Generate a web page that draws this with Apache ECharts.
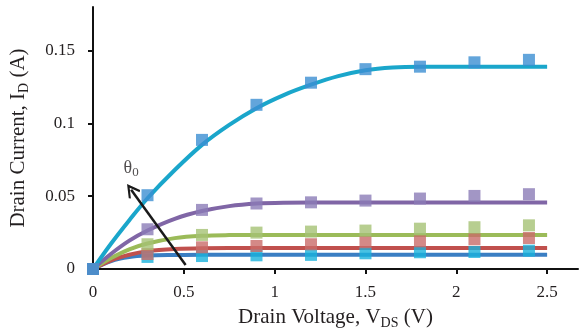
<!DOCTYPE html>
<html>
<head>
<meta charset="utf-8">
<script src="https://cdn.jsdelivr.net/npm/echarts@6/dist/echarts.min.js"></script>
<style>html,body{margin:0;padding:0;background:#fff;}#c{width:580px;height:335px;}</style>
</head>
<body>
<div id="c"></div>
<script>
// Measured points (markers)
var vds = [0, 0.3, 0.6, 0.9, 1.2, 1.5, 1.8, 2.1, 2.4];
var meas1 = [0, 0.0083, 0.0089, 0.0094, 0.0097, 0.0108, 0.0115, 0.0117, 0.0126];
var meas2 = [0, 0.0103, 0.0149, 0.0158, 0.0170, 0.0184, 0.0190, 0.0204, 0.0213];
var meas3 = [0, 0.0170, 0.0234, 0.0250, 0.0257, 0.0264, 0.0277, 0.0287, 0.0300];
var meas4 = [0, 0.0273, 0.0406, 0.0450, 0.0458, 0.0470, 0.0484, 0.0502, 0.0514];
var meas5 = [0, 0.0507, 0.0887, 0.1128, 0.1280, 0.1373, 0.1390, 0.1420, 0.1437];
// Fitted curves
var fitX = [0, 0.1, 0.2, 0.3, 0.45, 0.6, 0.75, 0.9, 1.05, 1.2, 1.35, 1.5, 1.65, 1.8, 2.1, 2.5];
var fit1 = [0, 0.0055, 0.0082, 0.0092, 0.0096, 0.0098, 0.0098, 0.0098, 0.0098, 0.0098, 0.0098, 0.0098, 0.0098, 0.0098, 0.0098, 0.0098];
var fit2 = [0, 0.0060, 0.0098, 0.0122, 0.0137, 0.0143, 0.0144, 0.0144, 0.0144, 0.0144, 0.0144, 0.0144, 0.0144, 0.0144, 0.0144, 0.0144];
var fit3 = [0, 0.0075, 0.0135, 0.0175, 0.0212, 0.0228, 0.0233, 0.0234, 0.0234, 0.0234, 0.0234, 0.0234, 0.0234, 0.0234, 0.0234, 0.0234];
var fit4 = [0, 0.0105, 0.0195, 0.0265, 0.0345, 0.0398, 0.0432, 0.0450, 0.0456, 0.0457, 0.0457, 0.0457, 0.0457, 0.0457, 0.0457, 0.0457];
var fit5 = [0, 0.0175, 0.0335, 0.0486, 0.0680, 0.0853, 0.0990, 0.1105, 0.1195, 0.1266, 0.1325, 0.1366, 0.1385, 0.1390, 0.1390, 0.1390];
// Arrow annotation (data coords) and label
var arrowFrom = [0.51, 0.0028];
var arrowTo = [0.21, 0.0545];
var thetaPos = [0.21, 0.069];
var xTicks = ['0', '0.5', '1', '1.5', '2', '2.5'];

function pairs(xs, ys) { return xs.map(function (x, i) { return [x, ys[i]]; }); }

var lineColors = ['#3A7EC3', '#C0504D', '#9BBB59', '#8066A6', '#1AA6CB'];
var markColors = ['#19B1DC', '#C96B69', '#A5C274', '#8B7CB7', '#3C8FD2'];
var fits = [fit1, fit2, fit3, fit4, fit5];
var meas = [meas1, meas2, meas3, meas4, meas5];
var txt = '#231f20';

var series = [];
for (var i = 0; i < 5; i++) {
  series.push({
    type: 'line', data: pairs(fitX, fits[i]), smooth: 0.35,
    showSymbol: false, lineStyle: { color: lineColors[i], width: 4 }, z: 2, silent: true
  });
}
for (var j = 0; j < 5; j++) {
  series.push({
    type: 'scatter', data: pairs(vds, meas[j]), symbol: 'rect', symbolSize: 12,
    itemStyle: { color: markColors[j] }, z: 3
  });
}
series.push({
  type: 'lines', coordinateSystem: 'cartesian2d', z: 5,
  symbol: ['none', 'path://M0,0 L6,9 L4.6,10 L0,3.2 L-4.6,10 L-6,9 Z'], symbolSize: 14,
  lineStyle: { color: '#1a1a1a', width: 2.5, opacity: 1 },
  data: [{ coords: [arrowFrom, arrowTo] }]
});
series.push({
  type: 'scatter', data: [thetaPos], symbolSize: 0, z: 6,
  label: { show: true, position: 'inside', formatter: 'θ{s|0}', color: txt,
    fontFamily: 'Liberation Serif', fontSize: 18,
    rich: { s: { fontSize: 13, verticalAlign: 'bottom', padding: [9, 0, 0, 0], fontFamily: 'Liberation Serif', color: txt } } }
});

var chart = echarts.init(document.getElementById('c'), null, { renderer: 'canvas' });
chart.setOption({
  animation: false,
  backgroundColor: '#fff',
  grid: { left: 90, top: 7, width: 488, height: 262, containLabel: false },
  xAxis: {
    type: 'value', min: 0, max: 2.67, interval: 0.5,
    name: 'Drain Voltage, V{s|DS} (V)', nameLocation: 'middle', nameGap: 36,
    nameTextStyle: { fontFamily: 'Liberation Serif', fontSize: 21, color: txt,
      rich: { s: { fontSize: 14, padding: [11, 0, 0, 0], fontFamily: 'Liberation Serif', color: txt } } },
    axisLine: { lineStyle: { color: '#111', width: 2 } },
    axisTick: { show: true, inside: false, length: 5, lineStyle: { color: '#111', width: 2 } },
    axisLabel: { fontFamily: 'Liberation Serif', fontSize: 17, color: txt, margin: 15, showMaxLabel: false,
      formatter: function (v) { var k = Math.round(v / 0.5); return Math.abs(v - k * 0.5) < 1e-6 ? xTicks[k] : ''; } },
    splitLine: { show: false }
  },
  yAxis: {
    type: 'value', min: 0, max: 0.18, interval: 0.05,
    name: 'Drain Current, I{s|D} (A)', nameLocation: 'middle', nameGap: 62, nameRotate: 90,
    nameTextStyle: { fontFamily: 'Liberation Serif', fontSize: 21, color: txt,
      rich: { s: { fontSize: 14, padding: [11, 0, 0, 0], fontFamily: 'Liberation Serif', color: txt } } },
    axisLine: { show: true, lineStyle: { color: '#111', width: 2 } },
    axisTick: { show: true, inside: false, length: 5, lineStyle: { color: '#111', width: 2 } },
    axisLabel: { fontFamily: 'Liberation Serif', fontSize: 17, color: txt, margin: 18, showMaxLabel: false },
    splitLine: { show: false }
  },
  series: series
});
</script>
</body>
</html>
